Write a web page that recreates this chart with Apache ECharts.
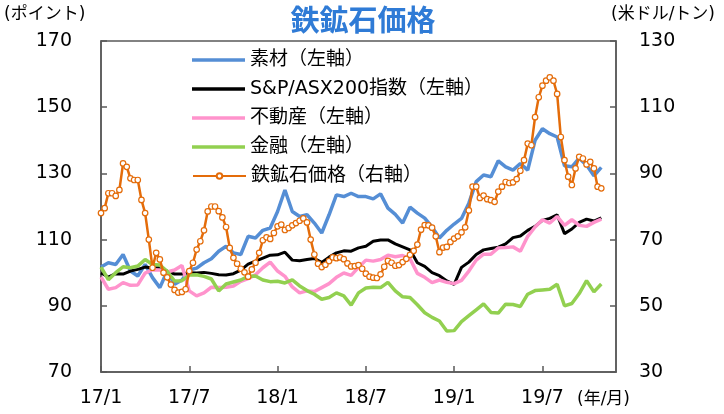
<!DOCTYPE html>
<html lang="ja">
<head>
<meta charset="UTF-8">
<title>鉄鉱石価格</title>
<script src="https://cdn.jsdelivr.net/npm/echarts@6/dist/echarts.min.js"></script>
<style>
  html, body { margin: 0; padding: 0; background: #fff; }
  #chart { width: 724px; height: 414px; }
</style>
</head>
<body>
<div id="chart"></div>
<script>
// x軸: 2017年1月からの月数
const xLabels = { 0: '17/1', 6: '17/7', 12: '18/1', 18: '18/7', 24: '19/1', 30: '19/7' };
const lineStep = 0.5;   // 半月ごと
const oreStep = 0.25;   // 週ごと

// 左軸 (ポイント)
const materials = [
  101.7, 103, 102.5, 105.5, 100.5, 99, 102.5, 98.5, 95.5, 100.5,
  96.5, 97.8, 100.8, 101.4, 103, 104.2, 106.5, 108, 106, 105.5,
  111, 110.5, 112.8, 113.5, 118.5, 125, 118.5, 117, 117.5, 115,
  112, 117.5, 123.5, 123, 124, 123, 123, 122.3, 123.8, 119.5,
  117.6, 115, 119.8, 118, 116.5, 113.8, 110.5, 112.8, 114.7, 116.4,
  121, 127.5, 129.5, 129, 133.8, 132, 131, 133, 131, 140,
  143.5, 142, 141, 132.3, 132, 134.6, 132.5, 129.3, 131.8
];
const asx200 = [
  99.9, 98.7, 99.7, 99.6, 100.5, 101, 101.7, 101.4, 101.5, 100.5,
  99.6, 99.6, 100, 99.9, 100.1, 99.8, 99.4, 99.3, 99.7, 100.8,
  102.6, 103.5, 104.4, 105.3, 105.4, 106.2, 103.8, 103.6, 104, 104.3,
  103.1, 104.7, 106, 106.6, 106.5, 107.5, 108, 109.5, 109.9, 109.9,
  108.7, 107.8, 106.9, 103, 101.9, 100, 99.1, 97.5, 96.5, 101.6,
  103.2, 105.5, 106.9, 107.3, 107.7, 108.7, 110.6, 111.1, 112.8, 114,
  115.8, 116.4, 117.5, 111.8, 113.2, 115.2, 116.2, 115.6, 116.6
];
const realEstate = [
  98.7, 95, 95.5, 97, 96.2, 96.3, 99.9, 100.9, 100.8, 100.2,
  100.8, 102.2, 94.5, 93, 93.9, 95.6, 95.5, 95.6, 96, 97.4,
  98.2, 99.4, 101.5, 103.2, 100.5, 98.9, 95.7, 93.9, 94.5, 94.3,
  95.5, 96.7, 98.6, 99.9, 99.2, 101.6, 103.8, 103.5, 104, 105.3,
  104.8, 105.2, 104.2, 99.8, 98.6, 97, 97.8, 97.1, 96.7, 97.7,
  100.5, 103.8, 105.6, 105.6, 107.5, 107.6, 107.8, 106.5, 111, 113.8,
  116, 115, 117, 114.3, 116, 114.3, 114, 115.2, 116.2
];
const financials = [
  101.7, 97.9, 100, 101.8, 101.5, 102, 104, 102.5, 102.3, 100.4,
  97.5, 97.6, 99.3, 99.4, 98.9, 98.1, 94.5, 96.6, 97.2, 97.8,
  98.9, 99, 97.8, 97.3, 97.4, 96.9, 97.8, 96, 94.6, 93.5,
  92, 92.5, 93.9, 93, 90.2, 93.9, 95.4, 95.6, 95.5, 97.1,
  94.5, 92.7, 92.5, 90.3, 87.9, 86.5, 85.4, 82.4, 82.5, 85.2,
  87, 88.8, 90.6, 88, 87.8, 90.5, 90.4, 89.8, 93.5, 94.6,
  94.8, 95, 96.5, 90, 90.7, 93.7, 97.6, 94.2, 96.6
];

// 右軸 (米ドル/トン)
const ironOre = [
  78, 79.5, 84, 84, 83.2, 85, 93, 92, 88.5, 88,
  88, 82, 78, 70, 61.5, 66, 64, 60, 58.6, 56.4,
  54.8, 54, 54.2, 55, 60.5, 63, 67, 69.5, 72.8, 78.5,
  80, 80, 78.6, 76.7, 73.8, 67.5, 64.5, 62.7, 61.2, 60.1,
  58.8, 61, 63, 66, 69.8, 70.7, 70.2, 72, 74, 74.5,
  72.9, 73.5, 74.3, 75, 75.7, 76.4, 75.2, 70, 65.5, 62.7,
  61.7, 62.4, 63.5, 64.6, 64.4, 64.6, 64.1, 62.8, 61.9, 62,
  62.3, 61.2, 59.7, 58.8, 58.5, 58.4, 59.5, 61.8, 63.6, 63,
  62.1, 62.3, 63.2, 64.2, 65.4, 66.6, 68.5, 73, 74.4, 74.3,
  73.6, 71, 66.2, 67.6, 67.8, 69.3, 70.3, 71, 72.2, 73.7,
  78.8, 86, 86, 82.6, 83.3, 82.2, 81.9, 81.4, 84.5, 86,
  87.4, 87.1, 87.3, 88.3, 90.8, 94, 99, 98.5, 107, 113,
  116.5, 118, 119, 118, 114, 101, 94, 89, 86.5, 91.5,
  95, 94.5, 92.7, 93.5, 91.5, 86, 85.5
];

const toPairs = (arr, step) => arr.map((v, i) => [i * step, v]);

const font = "'DejaVu Sans', 'Noto Sans CJK JP', sans-serif";
const axisColor = '#595959';
const legendText = { fontSize: 19, color: '#000', lineHeight: 20, fontFamily: font };

const chart = echarts.init(document.getElementById('chart'), null, { renderer: 'canvas' });

function lineSeries(name, data, color, width) {
  return {
    name: name,
    type: 'line',
    data: toPairs(data, lineStep),
    showSymbol: false,
    symbol: 'none',
    lineStyle: { color: color, width: width },
    itemStyle: { color: color },
    z: 2
  };
}

chart.setOption({
  animation: false,
  textStyle: { fontFamily: font },
  title: {
    text: '鉄鉱石価格',
    left: 358,
    top: 0,
    textAlign: 'center',
    textStyle: { color: '#2f7bd6', fontSize: 29, fontWeight: 'bold', fontFamily: "'Noto Sans CJK JP', sans-serif" }
  },
  grid: {
    left: 101, right: 108, top: 41, bottom: 42,
    show: true, borderColor: axisColor, borderWidth: 1.5
  },
  legend: [
    {
      orient: 'vertical',
      left: 187,
      top: 45,
      itemWidth: 53,
      itemHeight: 3.5,
      itemGap: 9,
      icon: 'rect',
      itemStyle: { borderWidth: 0 },
      textStyle: legendText,
      data: ['素材（左軸）', 'S&P/ASX200指数（左軸）', '不動産（左軸）', '金融（左軸）']
    },
    {
      orient: 'vertical',
      left: 187,
      top: 161,
      itemWidth: 53,
      itemHeight: 7,
      textStyle: legendText,
      data: ['鉄鉱石価格（右軸）']
    }
  ],
  xAxis: {
    type: 'value',
    min: 0,
    max: 35,
    interval: 6,
    axisLine: { lineStyle: { color: axisColor, width: 1.5 } },
    axisTick: { inside: true, length: 6, lineStyle: { color: axisColor, width: 1.5 } },
    splitLine: { show: false },
    axisLabel: {
      margin: 17,
      fontSize: 19,
      color: '#000',
      showMaxLabel: false,
      formatter: v => xLabels[v] || ''
    }
  },
  yAxis: [
    {
      type: 'value',
      min: 70, max: 170, interval: 20,
      axisLine: { show: true, lineStyle: { color: axisColor, width: 1.5 } },
      axisTick: { show: true, inside: true, length: 6, lineStyle: { color: axisColor, width: 1.5 } },
      splitLine: { show: false },
      axisLabel: { margin: 29, fontSize: 19, color: '#000' }
    },
    {
      type: 'value',
      min: 30, max: 130, interval: 20,
      position: 'right',
      axisLine: { show: true, lineStyle: { color: axisColor, width: 1.5 } },
      axisTick: { show: true, inside: true, length: 6, lineStyle: { color: axisColor, width: 1.5 } },
      splitLine: { show: false },
      axisLabel: { margin: 23, fontSize: 19, color: '#000' }
    }
  ],
  series: [
    lineSeries('素材（左軸）', materials, '#558ed5', 3.5),
    lineSeries('S&P/ASX200指数（左軸）', asx200, '#000000', 3),
    lineSeries('不動産（左軸）', realEstate, '#ff93cc', 3.5),
    lineSeries('金融（左軸）', financials, '#92d050', 3.5),
    {
      name: '鉄鉱石価格（右軸）',
      type: 'line',
      yAxisIndex: 1,
      data: toPairs(ironOre, oreStep),
      symbol: 'circle',
      symbolSize: 5.5,
      showSymbol: true,
      showAllSymbol: true,
      lineStyle: { color: '#e46c0a', width: 2.5 },
      itemStyle: { color: '#ffffff', borderColor: '#e46c0a', borderWidth: 1.2 },
      z: 3
    }
  ],
  graphic: [
    { type: 'text', left: 4, top: 6, style: { text: '(ポイント)', fontSize: 17, fill: '#000', fontFamily: font } },
    { type: 'text', right: 9, top: 6, style: { text: '(米ドル/トン)', fontSize: 17, fill: '#000', fontFamily: font } },
    { type: 'text', left: 577, top: 391, style: { text: '(年/月)', fontSize: 17, fill: '#000', fontFamily: font } }
  ]
});
</script>
</body>
</html>
